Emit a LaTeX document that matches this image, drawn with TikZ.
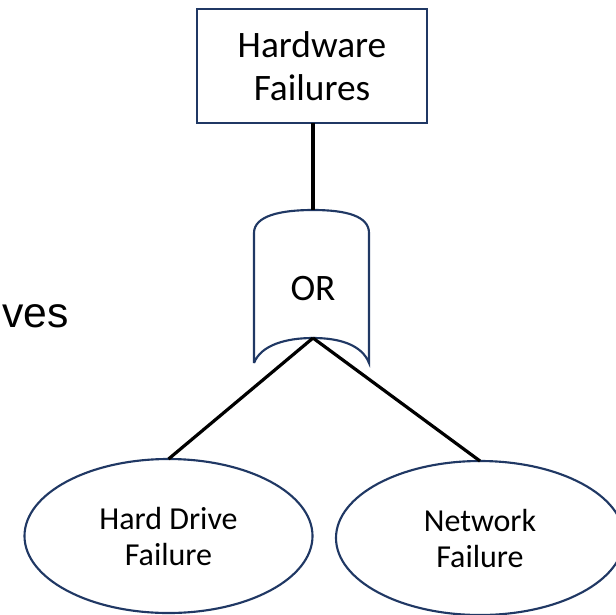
\documentclass[tikz,border=0pt]{standalone}
\usepackage{fontspec}
\setmainfont{Carlito}
\newfontfamily\arialfont{Liberation Sans}
\usetikzlibrary{shapes.geometric}
\definecolor{navy}{HTML}{203864}
\begin{document}
\begin{tikzpicture}[x=0.75pt,y=-0.75pt,
  shapeline/.style={draw=navy,line width=1.6pt},
  conn/.style={draw=black,line width=2.4pt},
  boxnode/.style={shapeline,rectangle,minimum width=172.5pt,minimum height=85.5pt,inner sep=0pt,outer sep=0pt,align=center,font=\fontsize{28}{32.5}\selectfont},
  ellnode/.style={shapeline,ellipse,minimum width=216pt,minimum height=115.5pt,inner sep=0pt,outer sep=0pt,align=center,font=\fontsize{24}{27}\selectfont},
  gatetext/.style={inner sep=0pt,font=\fontsize{28}{33}\selectfont}]
\useasboundingbox (0,0) rectangle (616,614);
\clip (0,0) rectangle (616,614);
\node[boxnode] (hw) at (312,66) {Hardware\\Failures};
\node[ellnode] (hd) at (168.5,536) {Hard Drive\\Failure};
\node[ellnode] (nf) at (480,538) {Network\\Failure};
\node[gatetext] (or) at (313,289) {OR};
\coordinate (ortop) at (313,210);
\coordinate (orbot) at (313,338);
\draw[shapeline] (254,363) -- (254,233) .. controls (254,216) and (280,210) .. (ortop)
  .. controls (346,210) and (369,216) .. (369,233) -- (369,363)
  .. controls (362,345) and (340,338) .. (orbot)
  .. controls (286,338) and (261,345) .. (254,363);
\draw[conn] (hw.south -| ortop) -- (ortop);
\draw[conn] (orbot) -- (hd.north);
\draw[conn] (orbot) -- (nf.north);
\node[anchor=base east,inner sep=0pt,font=\arialfont\fontsize{32}{38}\selectfont] (ves) at (69,327) {ves};
\end{tikzpicture}
\end{document}
